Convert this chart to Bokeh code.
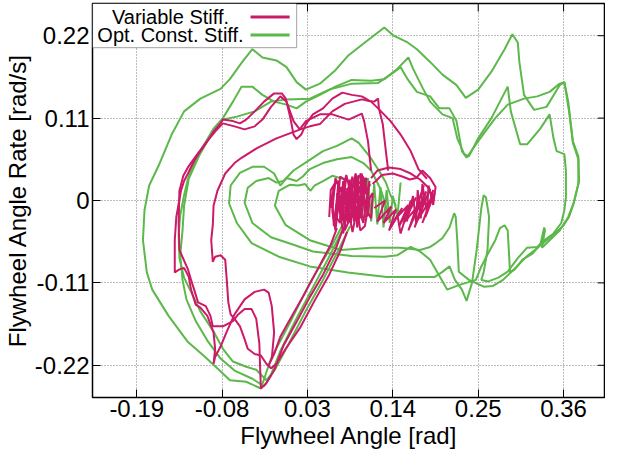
from bokeh.plotting import figure
from bokeh.models import (Range1d, FixedTicker, CustomJSTickFormatter,
                          BoxAnnotation, Label)
from bokeh.embed import file_html
from bokeh.resources import INLINE

FONT = "Liberation Sans"
PINK = "#cc1a68"
GREEN = "#5cb84a"

# ---------------- data ----------------
x_ticks = [-0.19, -0.08, 0.03, 0.14, 0.25, 0.36]
y_ticks = [-0.22, -0.11, 0.0, 0.11, 0.22]
x_limits = (-0.247, 0.414)
y_limits = (-0.263, 0.263)

series_names = ["Variable Stiff.", "Opt. Const. Stiff."]

# Opt. Const. Stiff. (green) -- (angle, rate) pairs
const_loop1 = [(0.077,-0.029),(0.062,-0.059),(0.033,-0.110),(0.008,-0.162),(-0.017,-0.211),(-0.030,-0.251),
    (-0.049,-0.242),(-0.070,-0.240),(-0.082,-0.228),(-0.104,-0.207),(-0.124,-0.189),(-0.149,-0.154),
    (-0.170,-0.119),(-0.177,-0.096),(-0.182,-0.053),(-0.180,-0.013),(-0.174,0.020),(-0.162,0.046),
    (-0.145,0.088),(-0.129,0.119),(-0.108,0.136),(-0.082,0.149),(-0.070,0.162),(-0.054,0.185),
    (-0.041,0.202),(-0.028,0.191),(-0.010,0.187),(0.003,0.178),(0.016,0.158),(0.028,0.148),
    (0.046,0.156),(0.066,0.174),(0.083,0.194),(0.104,0.211),(0.129,0.231),(0.141,0.220),
    (0.159,0.211),(0.171,0.202),(0.188,0.185),(0.204,0.168),(0.222,0.154),(0.234,0.137),
    (0.250,0.148),(0.267,0.172),(0.284,0.202),(0.294,0.222),(0.301,0.211),(0.303,0.185),
    (0.309,0.141),(0.322,0.121),(0.338,0.125),(0.355,0.154),(0.361,0.158),(0.366,0.132),
    (0.372,0.079),(0.379,0.059),(0.380,0.026),(0.373,-0.003),(0.366,-0.022),(0.355,-0.040),
    (0.342,-0.053),(0.332,-0.063),(0.336,-0.040),(0.335,-0.036),(0.330,-0.059),(0.320,-0.071),
    (0.307,-0.079),(0.297,-0.092),(0.291,-0.096),(0.288,-0.040),(0.284,-0.033),(0.278,-0.037),
    (0.272,-0.053),(0.263,-0.070),(0.254,-0.088),(0.247,-0.106),(0.225,-0.113),(0.210,-0.119),
    (0.203,-0.106),(0.188,-0.079),(0.175,-0.068),(0.163,-0.062),(0.146,-0.073),(0.129,-0.075),
    (0.087,-0.074),(0.037,-0.068),(0.012,-0.059),(-0.017,-0.049),(-0.041,-0.030),(-0.051,-0.003),
    (-0.047,0.017),(-0.036,0.026),(-0.020,0.030),(-0.010,0.024),(-0.001,0.026),(0.012,0.040),
    (0.031,0.053),(0.050,0.066),(0.068,0.073),(0.087,0.083),(0.096,0.077),(0.110,0.059),
    (0.122,0.040),(0.131,0.024),(0.137,0.007),(0.144,-0.007)]

const_loop2 = [(0.085,-0.034),(0.070,-0.066),(0.050,-0.106),(0.027,-0.149),(0.006,-0.191),(-0.011,-0.224),
    (-0.023,-0.240),(-0.036,-0.226),(-0.049,-0.222),(-0.066,-0.215),(-0.079,-0.198),(-0.091,-0.175),
    (-0.108,-0.148),(-0.120,-0.122),(-0.129,-0.103),(-0.135,-0.077),(-0.136,-0.046),(-0.134,-0.020),
    (-0.129,0.007),(-0.124,0.029),(-0.116,0.050),(-0.108,0.066),(-0.091,0.096),(-0.079,0.110),
    (-0.066,0.132),(-0.055,0.152),(-0.041,0.152),(-0.028,0.141),(-0.013,0.132),(0.003,0.128),
    (0.016,0.123),(0.028,0.132),(0.046,0.141),(0.066,0.152),(0.087,0.161),(0.112,0.160),
    (0.129,0.162),(0.146,0.176),(0.160,0.191),(0.166,0.176),(0.179,0.149),(0.188,0.132),
    (0.204,0.115),(0.217,0.110),(0.223,0.083),(0.232,0.062),(0.238,0.059),(0.250,0.083),
    (0.267,0.110),(0.288,0.152),(0.292,0.119),(0.304,0.075),(0.313,0.075),(0.330,0.096),
    (0.342,0.115),(0.347,0.083),(0.351,0.066),(0.361,0.062),(0.363,0.040),(0.363,0.004),
    (0.361,-0.013),(0.357,-0.030),(0.347,-0.044),(0.335,-0.053),(0.326,-0.062),(0.313,-0.063),
    (0.301,-0.077),(0.288,-0.095),(0.276,-0.103),(0.263,-0.108),(0.254,-0.106),(0.257,-0.096),
    (0.262,-0.066),(0.264,-0.022),(0.260,0.004),(0.257,0.007),(0.254,-0.010),(0.248,-0.066),
    (0.242,-0.110),(0.235,-0.134),(0.229,-0.119),(0.220,-0.106),(0.213,-0.088),(0.203,-0.096),
    (0.194,-0.102),(0.183,-0.102),(0.132,-0.102),(0.082,-0.096),(0.033,-0.088),(-0.007,-0.075),
    (-0.042,-0.057),(-0.061,-0.030),(-0.071,-0.004),(-0.069,0.020),(-0.057,0.037),(-0.041,0.045),
    (-0.026,0.045),(-0.013,0.036),(-0.005,0.020),(0.003,0.030),(0.016,0.026),(0.024,0.032),
    (0.033,0.042),(0.050,0.050),(0.068,0.055),(0.087,0.058),(0.102,0.050),(0.112,0.040),
    (0.119,0.026),(0.125,0.013),(0.131,-0.007),(0.137,-0.026)]

const_loop3 = [(0.075,-0.040),(0.057,-0.077),(0.037,-0.116),(0.014,-0.161),(-0.005,-0.201),(-0.018,-0.235),
    (-0.026,-0.248),(-0.041,-0.238),(-0.064,-0.227),(-0.082,-0.211),(-0.099,-0.187),(-0.114,-0.161),
    (-0.126,-0.132),(-0.131,-0.106),(-0.134,-0.073),(-0.131,-0.040),(-0.129,-0.007),(-0.123,0.029),
    (-0.110,0.059),(-0.097,0.083),(-0.087,0.100),(-0.079,0.108),(-0.061,0.112),(-0.038,0.119),
    (-0.017,0.132),(0.003,0.135),(0.033,0.136),(0.058,0.148),(0.087,0.156),(0.121,0.157),
    (0.137,0.168),(0.150,0.178),(0.159,0.162),(0.171,0.145),(0.188,0.139),(0.200,0.123),
    (0.213,0.123),(0.222,0.106),(0.229,0.066),(0.235,0.057),(0.247,0.075),(0.259,0.092),
    (0.272,0.110),(0.288,0.128),(0.309,0.136),(0.326,0.139),(0.342,0.145),(0.355,0.156),
    (0.361,0.158),(0.367,0.119),(0.372,0.077),(0.379,0.055),(0.379,0.022),(0.373,-0.004),
    (0.367,-0.022),(0.360,-0.033),(0.351,-0.042),(0.338,-0.053),(0.323,-0.066),(0.313,-0.074),
    (0.301,-0.087),(0.282,-0.106),(0.269,-0.114),(0.257,-0.115),(0.238,-0.106),(0.225,-0.095),
    (0.223,-0.053),(0.221,-0.022),(0.219,-0.017),(0.213,-0.036),(0.204,-0.050),(0.194,-0.058),
    (0.188,-0.062),(0.175,-0.066),(0.150,-0.063),(0.112,-0.063),(0.073,-0.066),(0.033,-0.053),
    (0.002,-0.033),(-0.012,-0.007),(-0.007,0.013),(0.007,0.021),(0.018,0.020),(0.027,0.022),
    (0.034,0.013),(0.039,0.020),(0.050,0.026),(0.062,0.033),(0.075,0.029),(0.087,0.024),
    (0.100,0.026),(0.112,0.020)]

const_chatter = [(0.100,0.026),(0.104,-0.022),(0.108,0.030),(0.112,-0.028),(0.116,0.022),(0.120,-0.032),
    (0.124,0.018),(0.128,-0.036),(0.132,0.014),(0.136,-0.030),(0.140,0.006),(0.146,-0.020),
    (0.150,0.024)]

# Variable Stiff. (pink) -- (angle, rate) pairs
var_loop1 = [(0.068,-0.037),(0.060,-0.059),(0.043,-0.092),(0.027,-0.123),(0.009,-0.156),(-0.005,-0.182),
    (-0.013,-0.205),(-0.020,-0.220),(-0.016,-0.211),(-0.013,-0.176),(-0.016,-0.141),(-0.020,-0.123),
    (-0.026,-0.119),(-0.038,-0.122),(-0.051,-0.132),(-0.064,-0.152),(-0.074,-0.175),(-0.082,-0.195),
    (-0.089,-0.209),(-0.091,-0.218),(-0.089,-0.198),(-0.091,-0.176),(-0.095,-0.165),(-0.099,-0.154),
    (-0.108,-0.143),(-0.114,-0.139),(-0.120,-0.119),(-0.123,-0.102),(-0.129,-0.090),(-0.135,-0.092),
    (-0.141,-0.096),(-0.141,-0.053),(-0.139,-0.022),(-0.133,0.013),(-0.129,0.026),(-0.124,0.036),
    (-0.116,0.053),(-0.108,0.066),(-0.099,0.079),(-0.091,0.092),(-0.082,0.103),(-0.079,0.108),
    (-0.066,0.106),(-0.057,0.103),(-0.049,0.108),(-0.038,0.119),(-0.026,0.132),(-0.013,0.143),
    (-0.003,0.143),(0.002,0.136),(0.008,0.110),(0.012,0.088),(0.016,0.082),(0.022,0.088),
    (0.028,0.102),(0.037,0.115),(0.050,0.123),(0.062,0.136),(0.075,0.144),(0.087,0.141),
    (0.100,0.139),(0.110,0.133),(0.116,0.132),(0.121,0.136),(0.122,0.123),(0.127,0.102),
    (0.131,0.066),(0.134,0.040)]

var_loop2 = [(0.075,-0.040),(0.066,-0.066),(0.050,-0.099),(0.033,-0.129),(0.016,-0.162),(-0.001,-0.194),
    (-0.013,-0.227),(-0.023,-0.244),(-0.030,-0.251),(-0.031,-0.224),(-0.032,-0.191),(-0.036,-0.158),
    (-0.042,-0.145),(-0.051,-0.145),(-0.060,-0.153),(-0.066,-0.161),(-0.079,-0.168),(-0.092,-0.168),
    (-0.095,-0.154),(-0.101,-0.141),(-0.111,-0.136),(-0.116,-0.119),(-0.120,-0.106),(-0.124,-0.092),
    (-0.135,-0.066),(-0.136,-0.030),(-0.135,0.013),(-0.130,0.033),(-0.123,0.046),(-0.114,0.059),
    (-0.101,0.077),(-0.089,0.092),(-0.079,0.103),(-0.064,0.099),(-0.051,0.095),(-0.038,0.099),
    (-0.028,0.108),(-0.017,0.125),(-0.005,0.139),(0.003,0.132),(0.012,0.106),(0.020,0.095),
    (0.028,0.106),(0.046,0.115),(0.062,0.115),(0.083,0.108),(0.100,0.116),(0.103,0.106),
    (0.108,0.079),(0.110,0.059),(0.112,0.040)]

var_loop3 = [(0.081,-0.042),(0.072,-0.068),(0.058,-0.099),(0.039,-0.134),(0.021,-0.169),(0.002,-0.198),
    (-0.010,-0.218),(-0.017,-0.224),(-0.023,-0.218),(-0.030,-0.207),(-0.038,-0.205),(-0.047,-0.198),
    (-0.051,-0.185),(-0.057,-0.168),(-0.064,-0.158),(-0.069,-0.152),(-0.072,-0.136),(-0.074,-0.106),
    (-0.076,-0.079),(-0.082,-0.073),(-0.089,-0.075),(-0.092,-0.082),(-0.094,-0.053),(-0.092,-0.033),
    (-0.091,-0.007),(-0.086,0.013),(-0.076,0.036),(-0.064,0.050),(-0.055,0.057),(-0.035,0.070),
    (-0.010,0.083),(0.008,0.090),(0.021,0.095),(0.033,0.099),(0.046,0.102),(0.062,0.119),
    (0.078,0.129),(0.100,0.135),(0.112,0.132),(0.121,0.123),(0.137,0.106),(0.150,0.088),
    (0.163,0.066),(0.173,0.042),(0.184,0.029)]

var_scribble_a = [(0.060,-0.010),(0.064,0.020),(0.070,0.026),(0.066,-0.020),(0.072,-0.030),(0.076,0.022),
    (0.080,0.030),(0.074,-0.012),(0.078,-0.034),(0.084,0.018),(0.088,0.032),(0.082,-0.016),
    (0.086,-0.030),(0.092,0.024),(0.096,0.034),(0.090,-0.010),(0.094,-0.028),(0.100,0.020),
    (0.104,0.030),(0.098,-0.018),(0.102,-0.030),(0.108,0.016),(0.110,0.026),(0.106,-0.012),
    (0.112,-0.024),(0.114,0.010),(0.108,0.000),(0.104,0.028),(0.098,0.036),(0.100,-0.004),
    (0.094,-0.036),(0.090,0.010),(0.092,0.030),(0.086,0.026),(0.084,-0.026),(0.078,-0.040),
    (0.076,0.004),(0.078,0.028),(0.072,0.032),(0.068,-0.016),(0.064,-0.034),(0.062,0.000),
    (0.066,0.024),(0.060,0.014),(0.058,-0.022)]

var_scribble_b = [(0.064,-0.028),(0.070,0.012),(0.074,0.018),(0.072,-0.024),(0.080,-0.026),(0.082,0.016),
    (0.088,0.022),(0.086,-0.022),(0.094,-0.020),(0.096,0.018),(0.102,0.014),(0.100,-0.022),
    (0.108,-0.020),(0.110,0.004),(0.104,-0.034),(0.098,-0.040),(0.094,-0.010),(0.088,-0.042),
    (0.082,-0.008),(0.076,-0.044),(0.070,-0.004),(0.066,-0.040),(0.062,-0.014),(0.066,0.030),
    (0.074,0.010),(0.080,0.034),(0.086,0.008),(0.092,0.036),(0.098,0.010),(0.100,0.036),
    (0.104,0.008),(0.106,0.030),(0.070,0.004),(0.084,-0.002),(0.096,0.002),(0.076,0.018),
    (0.090,-0.022),(0.072,-0.010),(0.102,-0.008)]

var_scribble_c = [(0.068,0.010),(0.072,-0.018),(0.076,0.026),(0.080,-0.020),(0.084,0.028),(0.088,-0.018),
    (0.092,0.026),(0.096,-0.016),(0.100,0.024),(0.104,-0.014),(0.102,0.020),(0.098,-0.024),
    (0.094,0.020),(0.090,-0.028),(0.086,0.018),(0.082,-0.030),(0.078,0.016),(0.074,-0.028),
    (0.070,0.018),(0.066,-0.024),(0.070,0.000),(0.080,0.004),(0.090,0.000),(0.100,0.004),
    (0.106,-0.002)]

var_cluster_right_a = [(0.112,0.030),(0.120,0.040),(0.135,0.044),(0.150,0.042),(0.163,0.036),(0.175,0.028),
    (0.185,0.018),(0.190,0.008),(0.186,-0.010),(0.192,0.014),(0.182,-0.022),(0.194,0.010),
    (0.178,-0.030),(0.190,0.004),(0.172,-0.026),(0.188,0.016),(0.168,-0.036),(0.183,0.012),
    (0.164,-0.030),(0.180,0.020),(0.160,-0.040),(0.175,-0.004),(0.154,-0.030),(0.170,0.004),
    (0.148,-0.034),(0.160,-0.006),(0.142,-0.026),(0.152,-0.010),(0.135,-0.040),(0.144,-0.012),
    (0.128,-0.030),(0.138,-0.008),(0.120,-0.028),(0.130,0.000),(0.116,-0.010)]

var_cluster_right_b = [(0.114,0.022),(0.126,0.034),(0.140,0.036),(0.152,0.032),(0.162,0.028),(0.170,0.030),
    (0.178,0.040),(0.188,0.030),(0.195,0.018),(0.192,-0.006),(0.186,0.020),(0.184,-0.016),
    (0.178,0.022),(0.176,-0.024),(0.172,0.014),(0.170,-0.030),(0.166,0.006),(0.158,-0.028),
    (0.163,0.000),(0.150,-0.044),(0.146,-0.020),(0.138,-0.034)]

green_segments = [const_loop1, const_loop2, const_loop3, const_chatter]
pink_segments = [var_loop1, var_loop2, var_loop3, var_scribble_a, var_scribble_b, var_scribble_c,
                 var_cluster_right_a, var_cluster_right_b]


def split(seg):
    return [pt[0] for pt in seg], [pt[1] for pt in seg]


# ---------------- figure ----------------
p = figure(width=605, height=456, output_backend="svg", toolbar_location=None,
           x_range=Range1d(*x_limits), y_range=Range1d(*y_limits),
           min_border_left=87, min_border_right=0, min_border_top=3, min_border_bottom=59)
p.background_fill_color = "white"
p.border_fill_color = "white"
p.outline_line_color = "black"
p.outline_line_width = 1.5

fmt = CustomJSTickFormatter(code="return Math.abs(tick) < 1e-9 ? '0' : tick.toFixed(2);")

for ax, ticks in ((p.xaxis[0], x_ticks), (p.yaxis[0], y_ticks)):
    ax.ticker = FixedTicker(ticks=ticks)
    ax.formatter = fmt
    ax.major_label_text_font = FONT
    ax.major_label_text_font_size = "24px"
    ax.major_label_text_color = "black"
    ax.axis_label_text_font = FONT
    ax.axis_label_text_font_size = "24px"
    ax.axis_label_text_font_style = "normal"
    ax.axis_label_text_color = "black"
    ax.major_tick_in = 8
    ax.major_tick_out = 0
    ax.minor_tick_in = 0
    ax.minor_tick_out = 0
    ax.major_tick_line_color = "black"
    ax.axis_line_color = None

p.xaxis[0].axis_label = "Flywheel Angle [rad]"
p.yaxis[0].axis_label = "Flywheel Angle Rate [rad/s]"
p.xaxis[0].major_label_standoff = 2
p.xaxis[0].axis_label_standoff = 2
p.yaxis[0].major_label_standoff = 3
p.yaxis[0].axis_label_standoff = 1

for grid, ticks in ((p.xgrid[0], x_ticks), (p.ygrid[0], y_ticks)):
    grid.ticker = FixedTicker(ticks=ticks)
    grid.grid_line_color = "#7a7a7a"
    grid.grid_line_dash = "1 2"
    grid.grid_line_width = 1

# mirrored inward tick marks on the top and right frame edges
tick_len_x = 0.010
tick_len_y = 0.0107
p.segment(x0=x_ticks, y0=[y_limits[1]] * len(x_ticks), x1=x_ticks,
          y1=[y_limits[1] - tick_len_y] * len(x_ticks), line_color="black", line_width=1)
p.segment(x0=[x_limits[1]] * len(y_ticks), y0=y_ticks, x1=[x_limits[1] - tick_len_x] * len(y_ticks),
          y1=y_ticks, line_color="black", line_width=1)

gx, gy = zip(*[split(s) for s in green_segments])
p.multi_line(xs=list(gx), ys=list(gy), line_color=GREEN, line_width=2)
px_, py_ = zip(*[split(s) for s in pink_segments])
p.multi_line(xs=list(px_), ys=list(py_), line_color=PINK, line_width=2)

# ---------------- legend (text left, sample line right, boxed top-left) ----------------
leg_right = x_limits[0] + 0.263
leg_bottom = y_limits[1] - 0.059
p.add_layout(BoxAnnotation(left=x_limits[0], right=leg_right, bottom=leg_bottom, top=y_limits[1],
                           fill_color="white", fill_alpha=1.0, line_color="black",
                           line_width=1.2, level="annotation"))
row_y = [y_limits[1] - 0.018, y_limits[1] - 0.042]
text_x = x_limits[0] + 0.1005
line_x0 = x_limits[0] + 0.2036
line_x1 = x_limits[0] + 0.2540
for name, color, ry in zip(series_names, [PINK, GREEN], row_y):
    p.add_layout(Label(x=text_x, y=ry, text=name, text_font=FONT, text_font_size="20px",
                       text_align="center", text_baseline="middle", text_color="black",
                       level="overlay"))
    r = p.segment(x0=[line_x0], y0=[ry], x1=[line_x1], y1=[ry], line_color=color, line_width=3)
    r.level = "overlay"

open("out.html", "w").write(file_html(p, INLINE))
